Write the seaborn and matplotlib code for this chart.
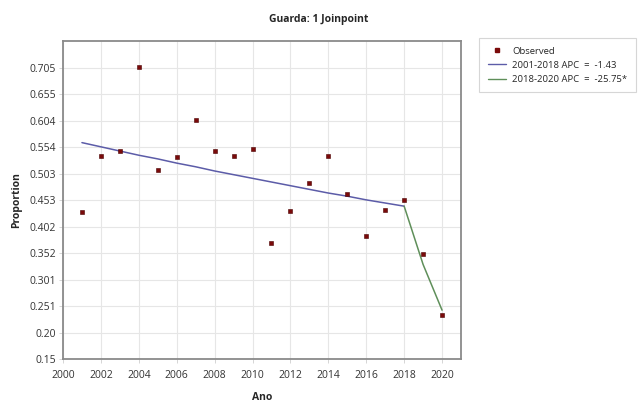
import pandas as pd
import numpy as np
import seaborn as sns
import matplotlib.pyplot as plt
from matplotlib.lines import Line2D

years = list(range(2001, 2021))
observed = [0.429, 0.536, 0.546, 0.706, 0.510, 0.534, 0.606, 0.546, 0.537, 0.550,
            0.371, 0.431, 0.486, 0.536, 0.464, 0.384, 0.433, 0.452, 0.349, 0.234]
seg1_years = list(range(2001, 2019))
seg1_fit = [0.562, 0.554, 0.546, 0.538, 0.531, 0.523, 0.516, 0.508, 0.501,
            0.494, 0.487, 0.480, 0.473, 0.466, 0.460, 0.453, 0.447, 0.441]
seg2_years = [2018, 2019, 2020]
seg2_fit = [0.441, 0.330, 0.243]
ytick_labels = ["0.15", "0.20", "0.251", "0.301", "0.352", "0.402",
                "0.453", "0.503", "0.554", "0.604", "0.655", "0.705"]

df = pd.DataFrame({"Ano": years, "Proportion": observed})
df1 = pd.DataFrame({"Ano": seg1_years, "Proportion": seg1_fit})
df2 = pd.DataFrame({"Ano": seg2_years, "Proportion": seg2_fit})

sns.set_style("whitegrid")
plt.rcParams['font.family'] = ['Open Sans', 'DejaVu Sans']

fig = plt.figure(figsize=(6.38, 4.03), dpi=100)
ax = fig.add_axes([63/638, 1-359/403, (461-63)/638, (359-41)/403])

red = "#7a0a0a"
blue = "#5c5ca8"
green = "#5f8f5a"

sns.lineplot(data=df1, x="Ano", y="Proportion", color=blue, linewidth=1.1, ax=ax)
sns.lineplot(data=df2, x="Ano", y="Proportion", color=green, linewidth=1.1, ax=ax)
sns.scatterplot(data=df, x="Ano", y="Proportion", marker="s", s=9, color=red,
                edgecolor="#4a0000", linewidth=0.4, ax=ax, zorder=5)

ax.set_xlim(2000, 2021)
ax.set_ylim(0.15, 0.7555)
ax.set_xticks(range(2000, 2021, 2))
ax.set_yticks(np.linspace(0.15, 0.705, 12))
ax.set_yticklabels(ytick_labels)
ax.tick_params(axis="both", labelsize=7.5, length=3, width=0.6,
               colors="#cfcfcf", labelcolor="#333333", left=True, bottom=True)
ax.tick_params(axis="x", pad=5)
ax.tick_params(axis="y", pad=2)
ax.grid(True, color="#e6e6e6", linewidth=0.8)
for s in ax.spines.values():
    s.set_color("#8a8a8a")
    s.set_linewidth(1.3)

ax.set_xlabel("Ano", fontsize=7.5, fontweight="bold")
ax.xaxis.set_label_coords(0.5, -0.105)
ax.set_ylabel("Proportion", fontsize=7.5, fontweight="bold", labelpad=5)
fig.suptitle("Guarda: 1 Joinpoint", fontsize=7.5, fontweight="bold", x=0.5, y=0.965)

handles = [
    Line2D([], [], marker="s", color=red, linestyle="none", markersize=2.8),
    Line2D([], [], color=blue, linewidth=1.0),
    Line2D([], [], color=green, linewidth=1.0),
]
labels = ["Observed", "2001-2018 APC  =  -1.43", "2018-2020 APC  =  -25.75*"]
leg = fig.legend(handles, labels, loc="upper left", bbox_to_anchor=(479/638, 1-38/403),
                 fontsize=6.8, frameon=True, fancybox=False, handlelength=2.0,
                 handletextpad=0.6, borderpad=0.9, labelspacing=0.55, borderaxespad=0)
leg.get_frame().set_edgecolor("#cccccc")
leg.get_frame().set_linewidth(0.8)

plt.savefig("out.png", dpi=100)
